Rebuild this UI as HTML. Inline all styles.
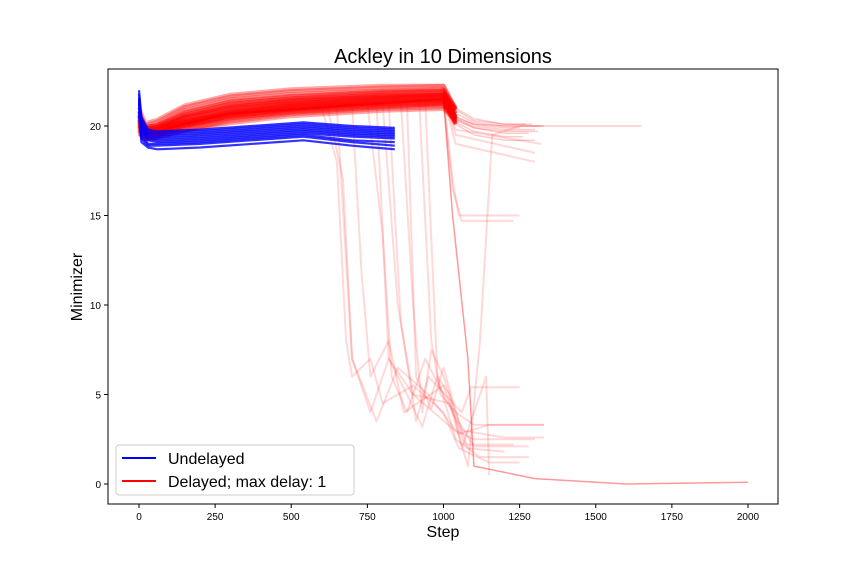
<!DOCTYPE html>
<html><head><meta charset="utf-8"><style>
body{margin:0;background:#fff;}
svg{display:block;font-family:"Liberation Sans","DejaVu Sans",sans-serif;}
</style></head><body>
<svg id="c" width="864" height="576" viewBox="0 0 864 576">
<rect x="0" y="0" width="864" height="576" fill="#fff"/>
<text x="443" y="63" font-size="20" text-anchor="middle">Ackley in 10 Dimensions</text>
<g id="marks"></g>
<rect x="108" y="69" width="670" height="435" fill="none" stroke="#000" stroke-width="1"/>
<g id="ticks"></g>
<text x="443" y="537" font-size="16" text-anchor="middle">Step</text>
<text x="82" y="287" font-size="16" text-anchor="middle" transform="rotate(-90 82 287)">Minimizer</text>
<g>
<rect x="116" y="445" width="238" height="50" rx="3" fill="#fff" fill-opacity="0.8" stroke="#ccc"/>
<line x1="122" y1="458" x2="156" y2="458" stroke="#0000ff" stroke-width="2"/>
<text x="168" y="464" font-size="16">Undelayed</text>
<line x1="122" y1="481" x2="156" y2="481" stroke="#ff0000" stroke-width="2"/>
<text x="168" y="487" font-size="16">Delayed; max delay: 1</text>
</g>
</svg>
<script>
const xTicks=[0,250,500,750,1000,1250,1500,1750,2000];
const yTicks=[0,5,10,15,20];
const redSteps=[0,20,60,150,300,500,800,1000,1040,1100,1200];
const redBand=[
[20.6,19.8,20.0,20.8,21.4,21.7,21.9,22.0,20.9,20.3,20.1],
[20.3,19.7,19.8,20.5,21.1,21.4,21.7,21.8,20.7,20.2,20.0],
[20.0,19.6,19.7,20.3,20.8,21.2,21.5,21.6,20.5,20.1,19.9],
[19.8,19.5,19.6,20.0,20.5,20.9,21.2,21.3,20.4,20.0,19.8],
[20.8,19.9,20.1,20.9,21.5,21.8,22.0,22.0,21.0,20.4,20.1],
[20.1,19.6,19.7,20.2,20.8,21.1,21.4,21.5,20.5,20.1,20.0],
[19.9,19.5,19.6,20.0,20.4,20.8,21.1,21.2,20.3,19.9,19.7],
[20.4,19.7,19.8,20.4,21.0,21.3,21.6,21.7,20.4,19.9,19.6],
[20.2,19.6,19.7,20.2,20.7,21.0,21.3,21.5,20.2,19.7,19.4],
[20.0,19.5,19.6,20.0,20.6,21.0,21.3,21.4,20.1,19.5,19.2]
];
const redBandEnd=[1290,1320,1250,1300,1270,1330,1310,1280,1260,1300];
const redDrops=[
[[0,20],[20,19.6],[300,20.6],[600,21],[650,18],[680,8],[700,6],[760,7],[800,4.5],[900,5.5],[1000,4],[1050,2],[1150,1.2],[1250,1.2]],
[[0,20],[20,19.6],[300,20.6],[620,21],[670,17],[700,7],[780,3.5],[850,6.5],[950,5],[1040,3],[1100,2.5],[1300,2.5]],
[[0,20],[20,19.6],[300,20.7],[750,21.2],[800,14],[830,6],[880,4],[940,7],[1000,5],[1060,3],[1200,2.6],[1330,2.6]],
[[0,20],[20,19.6],[300,20.7],[860,21.3],[900,10],[930,4],[960,7.5],[1000,6],[1080,2],[1200,1.8]],
[[0,20],[20,19.6],[300,20.7],[920,21.5],[960,8],[990,5],[1040,4],[1100,3.3],[1330,3.3]],
[[0,20],[20,19.6],[300,20.7],[700,21.2],[730,12],[760,6],[820,8],[870,4],[1000,5.5],[1070,2.2],[1230,2.2]],
[[0,20],[20,19.6],[300,20.7],[1000,21.5],[1030,17],[1050,15],[1250,15]],
[[0,20],[20,19.6],[300,20.7],[1000,21.4],[1030,16.5],[1060,14.7],[1230,14.7]],
[[0,20],[20,19.6],[300,20.7],[800,21.3],[850,10],[900,5],[1020,4.5],[1080,1],[1120,8],[1160,19.5],[1250,20],[1650,20]],
[[0,20],[20,19.6],[300,20.7],[820,21.3],[860,9],[910,3.5],[950,6],[1060,4],[1090,5.4],[1250,5.4]],
[[0,20],[20,19.6],[300,20.7],[1000,21.5],[1040,19],[1300,18]],
[[0,20],[20,19.6],[300,20.7],[1000,21.5],[1040,19.5],[1300,18.5]],
[[0,20],[20,19.6],[300,20.7],[1000,21.5],[1040,19.8],[1320,19]],
[[0,20],[20,19.6],[300,20.7],[650,21],[700,7],[760,4],[820,7],[900,5],[1050,2.8],[1150,3.3],[1330,3.3]],
[[0,20],[20,19.6],[300,20.7],[880,21.3],[910,6],[960,4.2],[1000,6.5],[1050,3.5],[1100,2.1],[1280,2.1]],
[[0,20],[20,19.6],[300,20.7],[780,21.3],[820,7],[880,5],[930,3.2],[980,6],[1040,2.5],[1120,1.5],[1280,1.5]],
[[0,20],[20,19.6],[300,20.7],[940,21.4],[980,6],[1020,5],[1060,2],[1140,6],[1150,0.5]]
];
const redLong=[[0,20],[20,19.6],[300,20.7],[1000,21.5],[1030,15],[1080,7],[1100,1],[1300,0.3],[1600,0],[2000,0.1]];
const blueSteps=[0,8,30,60,200,540,700,840];
const blueLines=[
[22.0,20.5,19.8,19.7,19.8,20.2,20.0,19.9],
[21.8,20.3,19.7,19.6,19.7,20.1,19.9,19.8],
[21.6,20.1,19.6,19.5,19.6,20.0,19.8,19.7],
[21.5,20.0,19.5,19.4,19.5,19.9,19.7,19.6],
[21.4,19.9,19.4,19.3,19.4,19.8,19.6,19.5],
[21.3,19.8,19.3,19.2,19.3,19.7,19.5,19.4],
[21.2,19.7,19.2,19.1,19.2,19.6,19.4,19.3],
[21.0,19.5,19.0,19.0,19.1,19.5,19.2,19.1],
[20.8,19.3,18.9,18.9,19.0,19.4,19.1,18.9],
[20.6,19.1,18.8,18.7,18.8,19.2,18.9,18.7]
];
const X=v=>139+v*(748-139)/2000;
const Y=v=>484-v*(484-126)/20;
const NS="http://www.w3.org/2000/svg";
const marks=document.getElementById('marks');
function path(pts,color,op,w,name){
  const p=document.createElementNS(NS,'polyline');
  p.setAttribute('points',pts.map(q=>X(q[0]).toFixed(1)+','+Y(q[1]).toFixed(1)).join(' '));
  p.setAttribute('fill','none');p.setAttribute('stroke',color);
  p.setAttribute('stroke-opacity',op);p.setAttribute('stroke-width',w);
  p.setAttribute('stroke-linejoin','round');
  
  
  marks.appendChild(p);
}
redDrops.forEach(s=>path(s,'#ff0000',0.15,2,'delayed-run-line'));
path(redLong,'#ff0000',0.4,1.5,'delayed-run-line');
redBand.forEach((ys,i)=>{
  const pts=redSteps.slice(7).map((s,j)=>[s,ys[j+7]]);
  pts.push([redBandEnd[i],ys[ys.length-1]]);
  path(pts,'#ff0000',0.2,1.5,'delayed-run-tail');
});
for(let k=0;k<3;k++) redBand.forEach((ys,i)=>{
  const pts=redSteps.slice(0,8).map((s,j)=>[s,ys[j]+(k-1)*0.25]);
  pts.push([1040,ys[8]]);
  path(pts,'#ff0000',0.35,4,'delayed-run-line');
});
blueLines.forEach(ys=>path(blueSteps.map((s,j)=>[s,ys[j]]),'#0000ff',0.8,2.2,'undelayed-run-line'));
const tg=document.getElementById('ticks');
xTicks.forEach(t=>{
  const l=document.createElementNS(NS,'line');
  l.setAttribute('x1',X(t));l.setAttribute('x2',X(t));l.setAttribute('y1',504);l.setAttribute('y2',508);l.setAttribute('stroke','#000');
  
  
  tg.appendChild(l);
  const tx=document.createElementNS(NS,'text');
  tx.setAttribute('x',X(t));tx.setAttribute('y',520);tx.setAttribute('font-size','10');tx.setAttribute('text-anchor','middle');
  tx.textContent=t;
  
  
  tg.appendChild(tx);
});
yTicks.forEach(t=>{
  const l=document.createElementNS(NS,'line');
  l.setAttribute('x1',104);l.setAttribute('x2',108);l.setAttribute('y1',Y(t));l.setAttribute('y2',Y(t));l.setAttribute('stroke','#000');
  
  
  tg.appendChild(l);
  const tx=document.createElementNS(NS,'text');
  tx.setAttribute('x',101);tx.setAttribute('y',Y(t)+4);tx.setAttribute('font-size','10');tx.setAttribute('text-anchor','end');
  tx.textContent=t;
  
  
  tg.appendChild(tx);
});
</script>
</body></html>
